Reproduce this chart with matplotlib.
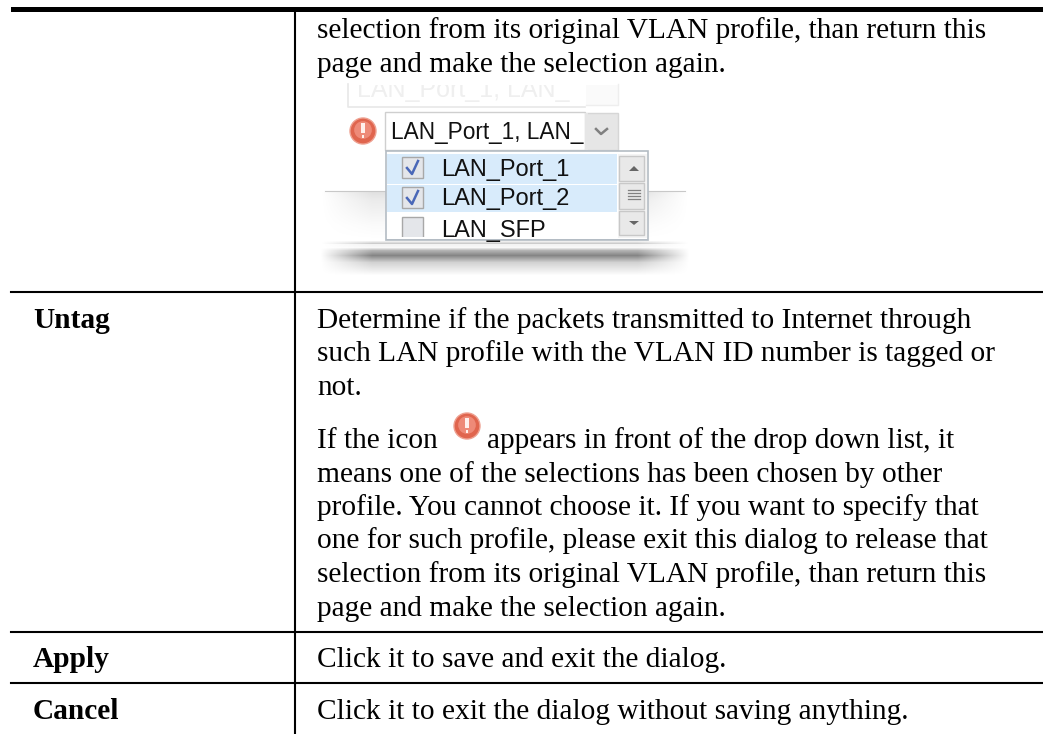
import numpy as np
import matplotlib
matplotlib.use("Agg")
import matplotlib.pyplot as plt
from matplotlib.patches import Rectangle, Circle

# table text
row_labels=["Untag","Apply","Cancel"]
row_label_y=[328,667,719]
top_lines=["selection from its original VLAN profile, than return this",
           "page and make the selection again."]
top_y=[38,72]
untag_lines=["Determine if the packets transmitted to Internet through",
             "such LAN profile with the VLAN ID number is tagged or",
             "not."]
untag_y=[328,361,395]
icon_first="If the icon"
icon_first_rest="appears in front of the drop down list, it"
icon_lines=["means one of the selections has been chosen by other",
            "profile. You cannot choose it. If you want to specify that",
            "one for such profile, please exit this dialog to release that",
            "selection from its original VLAN profile, than return this",
            "page and make the selection again."]
icon_y=[448,482,515,548,582,616]
apply_text="Click it to save and exit the dialog."
cancel_text="Click it to exit the dialog without saving anything."
apply_y=667
cancel_y=719
# dropdown text
combo_text="LAN_Port_1, LAN_"
list_items=["LAN_Port_1","LAN_Port_2","LAN_SFP"]
list_checked=[True,True,False]
list_y=[176,205,236.6]
box_top=[157,187,217]

W=1043
H=734
fig=plt.figure(figsize=(W/100,H/100),dpi=100)
ax=fig.add_axes([0,0,1,1])
ax.set_xlim(0,W)
ax.set_ylim(H,0)
ax.axis("off")

serif="Liberation Serif"
sans="Liberation Sans"
fs=21.15

# table lines
ax.add_patch(Rectangle((11,7),W-11,5,color="black",lw=0))
ax.plot([295,295],[12,H],color="black",lw=1.5)
for y in [292,632,683]:
    ax.plot([11,W],[y,y],color="black",lw=1.5)

# ghost box above the combo, its top is cut off
ax.add_patch(Rectangle((586,84),32,21,fc="#fafafa",ec="none",zorder=1))
ax.plot([348,348,585],[84,107,107],color="#e8e8e8",lw=1.2,zorder=2)
ax.plot([586,618,618],[105,105,84],color="#eeeeee",lw=1,zorder=2)
ax.text(357,97,combo_text,family=sans,fontsize=18,color="#efefef",zorder=1.5)
ax.add_patch(Rectangle((340,70),290,15,fc="white",ec="none",zorder=1.8))

# text
for s,y in zip(top_lines,top_y):
    ax.text(317,y,s,family=serif,fontsize=fs,color="black")
for s,y in zip(untag_lines,untag_y):
    ax.text(317,y,s,family=serif,fontsize=fs,color="black")
ax.text(317,icon_y[0],icon_first,family=serif,fontsize=fs,color="black")
ax.text(487,icon_y[0],icon_first_rest,family=serif,fontsize=fs,color="black")
for s,y in zip(icon_lines,icon_y[1:]):
    ax.text(317,y,s,family=serif,fontsize=fs,color="black")
ax.text(317,apply_y,apply_text,family=serif,fontsize=fs,color="black")
ax.text(317,cancel_y,cancel_text,family=serif,fontsize=fs,color="black")
for s,y in zip(row_labels,row_label_y):
    ax.text(33,y,s,family=serif,fontsize=fs,fontweight="bold",color="black")

# panel shadow of the dialog screenshot
xs=np.linspace(0,1,370)
fade=np.clip(np.minimum(xs,1-xs)/0.14,0,1)
ys=np.arange(192,276)
v=np.interp(ys,[192,200,225,240,243,244,247,250,255,262,275],[0.12,0.08,0.02,0.0,0.2,0.05,0.03,0.3,0.48,0.18,0.0])
img=np.zeros((len(ys),len(xs),4))
img[:,:,3]=np.outer(v,fade)
ax.imshow(img,extent=(320,690,276,192),aspect="auto",zorder=1,interpolation="bilinear")
ax.plot([325,685],[191,191],color="#c8c8c8",lw=0.8,zorder=1)
ax.set_xlim(0,W)
ax.set_ylim(H,0)

def warn_icon(cx,cy,r):
    ax.add_patch(Circle((cx,cy),r,fc="#e0654e",ec="#eea090",lw=1,zorder=4))
    ax.add_patch(Circle((cx,cy-1),r*0.68,fc="#ee8a78",ec="none",zorder=4))
    ax.add_patch(Rectangle((cx-1.6,cy-r*0.62),3.2,r*0.8,fc="#fff0ec",ec="none",zorder=5))
    ax.add_patch(Rectangle((cx-1.4,cy+r*0.34),2.8,2.8,fc="#fff0ec",ec="none",zorder=5))

warn_icon(363,131,13)
warn_icon(467,426,13)

# combo box
ax.add_patch(Rectangle((385,112),200,38,fc="white",ec="#cfcfcf",lw=1,zorder=2))
ax.add_patch(Rectangle((586,113),32,37,fc="#e6e6e6",ec="#d6d6d6",lw=1,zorder=2))
ax.plot([596,601,607],[129,134,129],color="#808080",lw=1.8,zorder=3)
ax.text(391,139,combo_text,family=sans,fontsize=16.3,color="#111111",zorder=3)
ax.add_patch(Rectangle((585,113),3,37,fc="#e6e6e6",ec="none",zorder=4))

# drop down list
ax.add_patch(Rectangle((386,151),262,89,fc="white",ec="#b4bcc4",lw=1.2,zorder=5))
ax.add_patch(Rectangle((387,154),230,30,fc="#d8ebfb",ec="none",zorder=5))
ax.add_patch(Rectangle((387,185),230,27,fc="#d8ebfb",ec="none",zorder=5))
for name,checked,y,top in zip(list_items,list_checked,list_y,box_top):
    ax.add_patch(Rectangle((402,top),21,21,fc="#e4e6ea",ec="#a8a8a8",lw=1,zorder=6))
    if checked:
        ax.plot([407,412,418],[top+11,top+17,top+4],color="#4a68b8",lw=1.8,zorder=7)
    ax.text(441,y,name,family=sans,fontsize=17,color="#111111",zorder=7)
# the list is cut at its bottom edge
ax.add_patch(Rectangle((387,237),260,2.4,fc="white",ec="none",zorder=8))
ax.add_patch(Rectangle((386,239),262,1.2,fc="#b4bcc4",ec="none",zorder=8))

# scrollbar
ax.add_patch(Rectangle((618,154),29,84,fc="#f4f4f4",ec="none",zorder=8))
for y0,h in [(156,25),(183,26),(211,24)]:
    ax.add_patch(Rectangle((619,y0),25,h,fc="#e9e9e9",ec="#c8c8c8",lw=1,zorder=9))
ax.fill([629,634,639],[171,166,171],color="#666666",lw=0,zorder=10)
ax.fill([629,634,639],[221,225,221],color="#666666",lw=0,zorder=10)
for y in [190,193,196,199]:
    ax.plot([628,640],[y,y],color="#808080",lw=0.9,zorder=10)

fig.savefig("out.png",dpi=100,facecolor="white")
